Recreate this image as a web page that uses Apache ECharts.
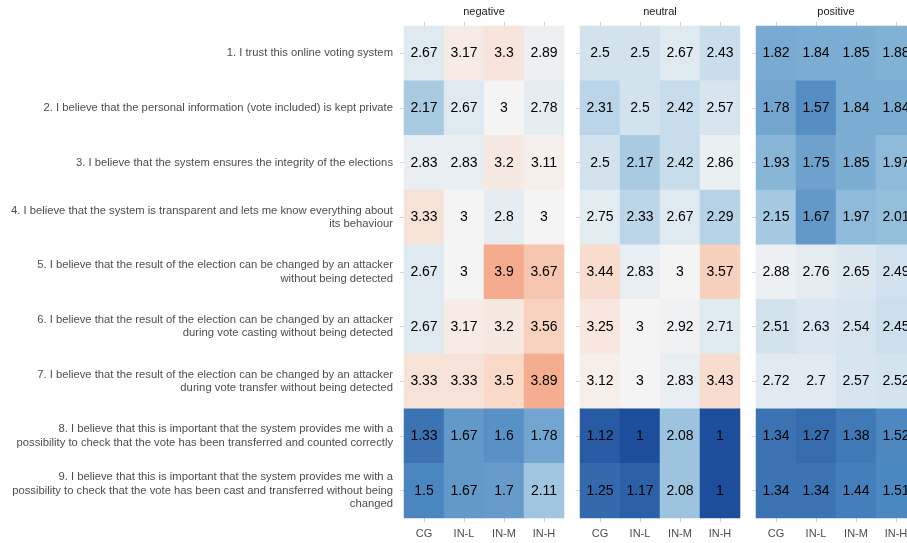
<!DOCTYPE html>
<html>
<head>
<meta charset="utf-8">
<script src="https://cdn.jsdelivr.net/npm/echarts@6/dist/echarts.min.js"></script>
<style>
  html, body { margin: 0; padding: 0; background: #fff; }
  #main { width: 907px; height: 543px; }
</style>
</head>
<body>
<div id="main"></div>
<script>
// groups (columns) and questions (rows)
var groups = ['CG', 'IN-L', 'IN-M', 'IN-H'];
var panels = ['negative', 'neutral', 'positive'];
var questions = [
    '1. I trust this online voting system',
    '2. I believe that the personal information (vote included) is kept private',
    '3. I believe that the system ensures the integrity of the elections',
    '4. I believe that the system is transparent and lets me know everything about\nits behaviour',
    '5. I believe that the result of the election can be changed by an attacker\nwithout being detected',
    '6. I believe that the result of the election can be changed by an attacker\nduring vote casting without being detected',
    '7. I believe that the result of the election can be changed by an attacker\nduring vote transfer without being detected',
    '8. I believe that this is important that the system provides me with a\npossibility to check that the vote has been transferred and counted correctly',
    '9. I believe that this is important that the system provides me with a\npossibility to check that the vote has been cast and transferred without being\nchanged'
];

// mean scores, one row per question, one column per group
var negative = [
    [2.67, 3.17, 3.3, 2.89],
    [2.17, 2.67, 3, 2.78],
    [2.83, 2.83, 3.2, 3.11],
    [3.33, 3, 2.8, 3],
    [2.67, 3, 3.9, 3.67],
    [2.67, 3.17, 3.2, 3.56],
    [3.33, 3.33, 3.5, 3.89],
    [1.33, 1.67, 1.6, 1.78],
    [1.5, 1.67, 1.7, 2.11]
];
var neutral = [
    [2.5, 2.5, 2.67, 2.43],
    [2.31, 2.5, 2.42, 2.57],
    [2.5, 2.17, 2.42, 2.86],
    [2.75, 2.33, 2.67, 2.29],
    [3.44, 2.83, 3, 3.57],
    [3.25, 3, 2.92, 2.71],
    [3.12, 3, 2.83, 3.43],
    [1.12, 1, 2.08, 1],
    [1.25, 1.17, 2.08, 1]
];
var positive = [
    [1.82, 1.84, 1.85, 1.88],
    [1.78, 1.57, 1.84, 1.84],
    [1.93, 1.75, 1.85, 1.97],
    [2.15, 1.67, 1.97, 2.01],
    [2.88, 2.76, 2.65, 2.49],
    [2.51, 2.63, 2.54, 2.45],
    [2.72, 2.7, 2.57, 2.52],
    [1.34, 1.27, 1.38, 1.52],
    [1.34, 1.34, 1.44, 1.51]
];

var myChart = echarts.init(document.getElementById('main'), null, {renderer: 'canvas'});
var font = 'Liberation Sans, Arial, sans-serif';
var tables = [negative, neutral, positive];
var lefts = [404, 580, 756];

var grids = [], xAxes = [], yAxes = [], series = [];
tables.forEach(function(tbl, g) {
    // last panel runs past the right edge, like the original
    grids.push({left: lefts[g], top: 26, width: 160, height: 492, outerBoundsMode: 'none', containLabel: false});
    // bottom axis with group labels
    xAxes.push({
        type: 'category', gridIndex: g, data: groups, position: 'bottom',
        axisLine: {show: false},
        axisTick: {show: true, alignWithLabel: true, length: 4, lineStyle: {color: '#d4d4d4'}},
        axisLabel: {color: '#4d4d4d', fontSize: 11, fontFamily: font, margin: 10},
        splitLine: {show: false}
    });
    // top axis just for the facet title and ticks
    xAxes.push({
        type: 'category', gridIndex: g, data: groups, position: 'top',
        name: panels[g], nameLocation: 'middle', nameGap: 9,
        nameTextStyle: {color: '#1a1a1a', fontSize: 11, fontFamily: font},
        axisLine: {show: false},
        axisTick: {show: true, alignWithLabel: true, length: 4, lineStyle: {color: '#d4d4d4'}},
        axisLabel: {show: false},
        splitLine: {show: false}
    });
    yAxes.push({
        type: 'category', gridIndex: g, data: questions, inverse: true,
        axisLine: {show: false},
        axisTick: {show: true, alignWithLabel: true, length: 4, lineStyle: {color: '#d4d4d4'}},
        axisLabel: {show: g === 0, color: '#4d4d4d', fontSize: 11.25, fontFamily: font,
            lineHeight: 13.3, margin: 11, align: 'right'},
        splitLine: {show: false}
    });
    var data = [];
    tbl.forEach(function(row, r) {
        row.forEach(function(v, c) { data.push([c, r, v]); });
    });
    series.push({
        type: 'heatmap', xAxisIndex: g * 2, yAxisIndex: g, data: data,
        label: {show: true, color: '#000', fontSize: 14, fontFamily: font,
            formatter: function(p) { return String(p.value[2]); }},
        itemStyle: {borderWidth: 0},
        emphasis: {disabled: true}
    });
});

var option = {
    backgroundColor: '#fff',
    animation: false,
    grid: grids,
    xAxis: xAxes,
    yAxis: yAxes,
    visualMap: {
        show: false, type: 'continuous', min: 1, max: 5, dimension: 2,
        seriesIndex: [0, 1, 2],
        inRange: {color: ['#1d4e9b', '#4a86bf', '#92bedb', '#d2e3ee', '#f4f4f4',
            '#f9d9c8', '#f4a080', '#d8604d', '#b2182b']}
    },
    series: series
};
myChart.setOption(option);
</script>
</body>
</html>
